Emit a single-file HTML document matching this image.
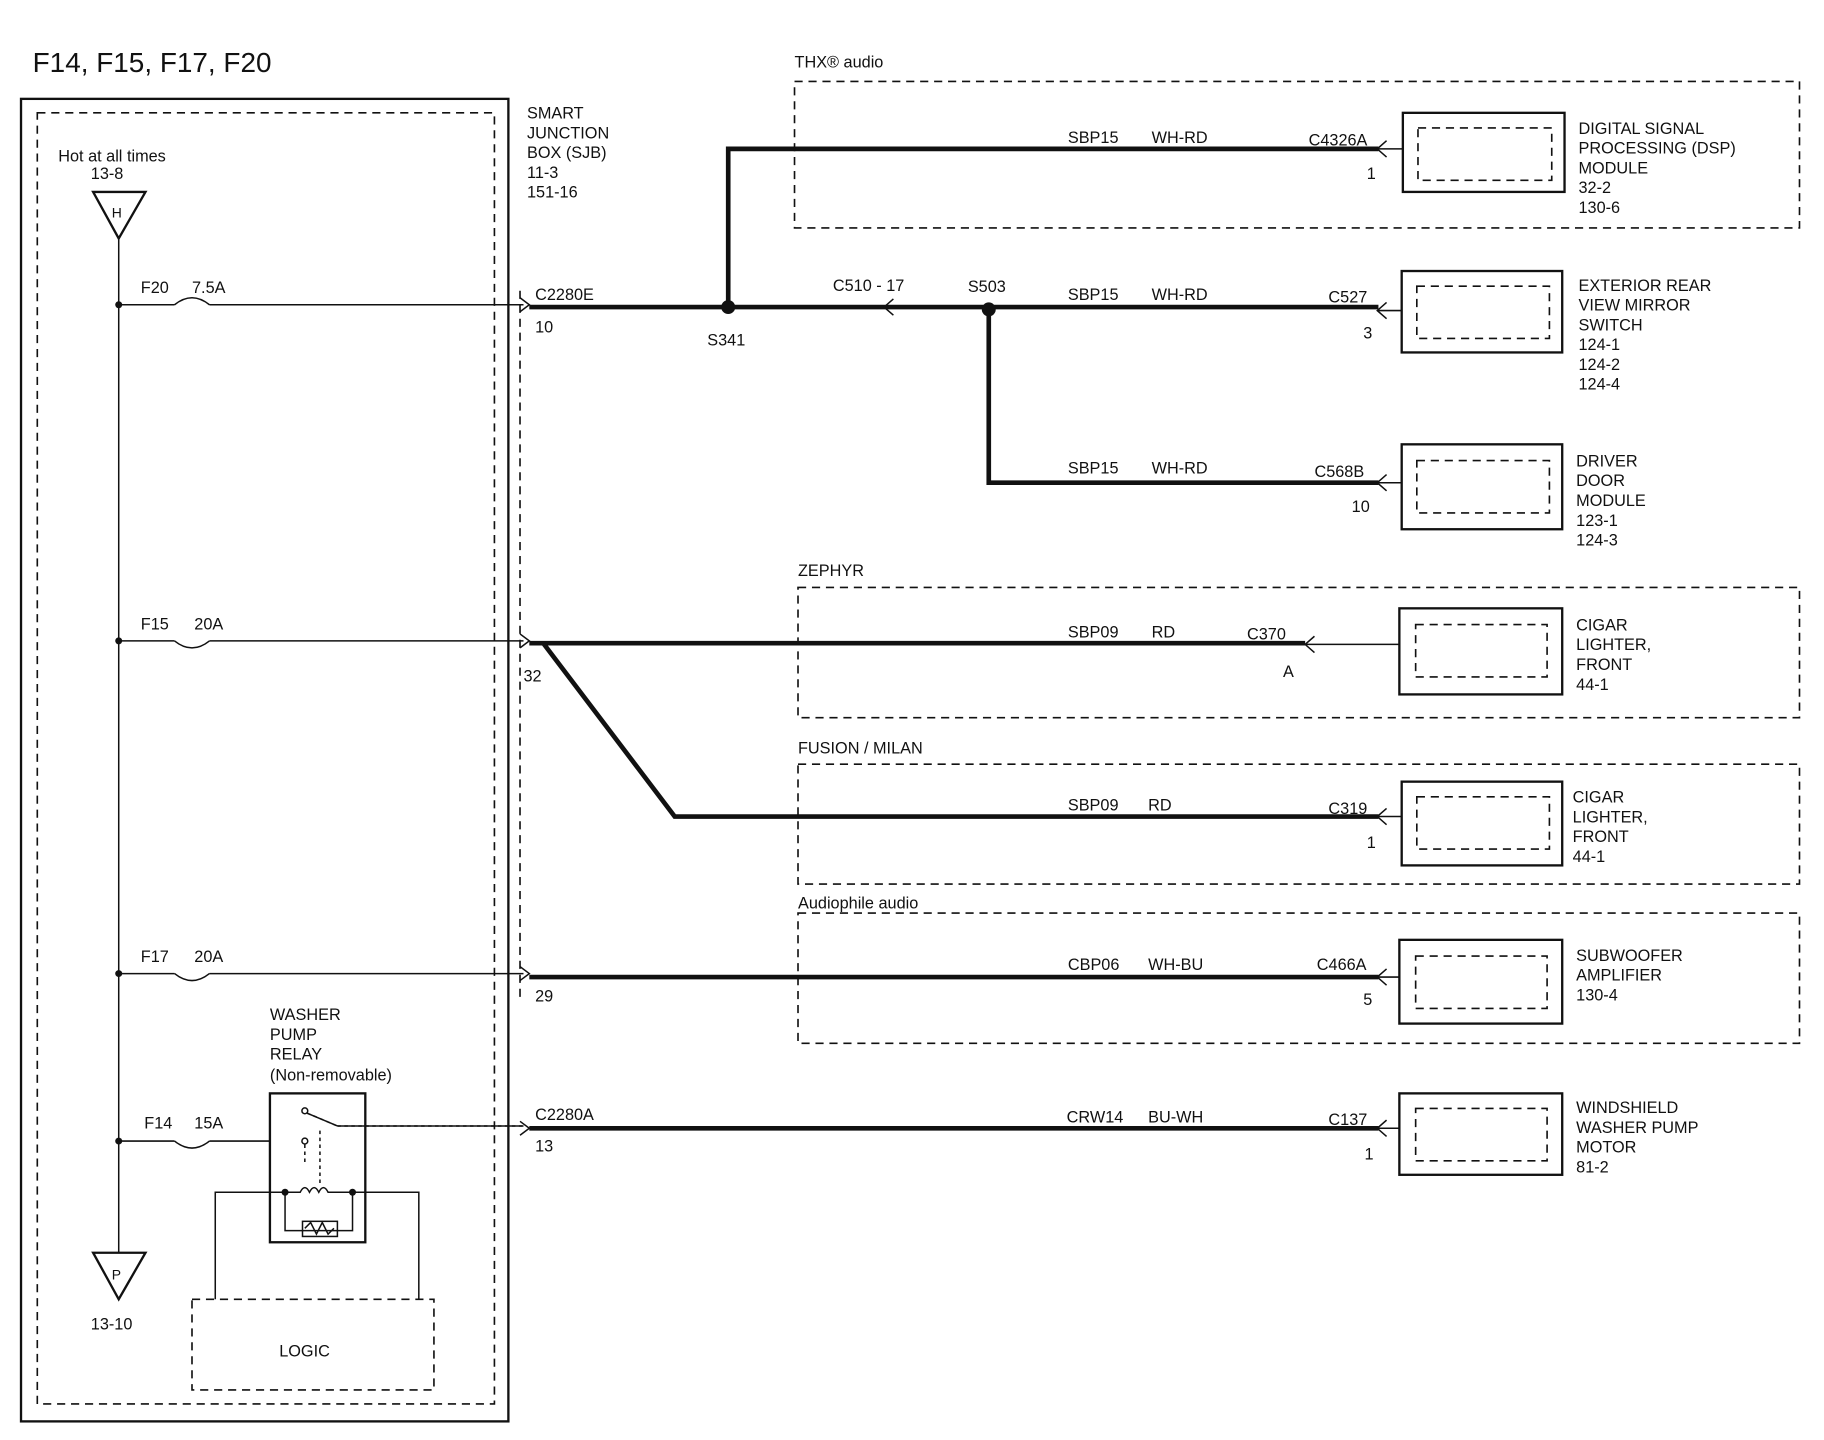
<!DOCTYPE html>
<html><head><meta charset="utf-8"><style>
html,body{margin:0;padding:0;background:#fff}
svg{display:block}
text{font-family:"Liberation Sans",Arial,sans-serif;font-size:14px;fill:#111}
.t{stroke:#111;stroke-width:1.3;fill:none}
.k{stroke:#111;stroke-width:4;fill:none}
.d{stroke:#111;stroke-width:1.4;fill:none;stroke-dasharray:7,5}
.b{stroke:#111;stroke-width:2;fill:none}
</style></head><body>
<svg width="1824" height="1440" viewBox="0 0 1568 1238" xmlns="http://www.w3.org/2000/svg">
<text x="28" y="62" style="font-size:24px">F14, F15, F17, F20</text>
<rect x="18" y="85" width="419" height="1137" class="b"/>
<rect x="32" y="97" width="393" height="1110" class="d"/>
<text x="50" y="139">Hot at all times</text>
<text x="78" y="154">13-8</text>
<polygon points="80,165 125,165 102,205" class="b"/>
<text x="96" y="187" style="font-size:12px">H</text>
<line x1="102" y1="205" x2="102" y2="1077" class="t"/>
<polygon points="80,1077 125,1077 102,1117" class="b"/>
<text x="96" y="1100" style="font-size:12px">P</text>
<text x="78" y="1143">13-10</text>
<!-- branches -->
<g>
<circle cx="102" cy="262" r="3" fill="#111"/><circle cx="102" cy="551" r="3" fill="#111"/><circle cx="102" cy="837" r="3" fill="#111"/><circle cx="102" cy="981" r="3" fill="#111"/>
<path d="M102 262H150 M180 262H450 M150 262q15 -12 30 0" class="t"/>
<path d="M102 551H150 M180 551H450 M150 551q15 12 30 0" class="t"/>
<path d="M102 837H150 M180 837H450 M150 837q15 12 30 0" class="t"/>
<path d="M102 981H150 M180 981H232 M150 981q15 12 30 0" class="t"/>
<text x="121" y="252">F20</text><text x="165" y="252">7.5A</text>
<text x="121" y="541">F15</text><text x="167" y="541">20A</text>
<text x="121" y="827">F17</text><text x="167" y="827">20A</text>
<text x="124" y="970">F14</text><text x="167" y="970">15A</text>
<path d="M447 256l8 6l-8 6 M447 545l8 6l-8 6 M447 831l8 6l-8 6 M447 964l8 6l-8 6" class="t"/>
<line x1="447" y1="250" x2="447" y2="860" class="d"/>
</g>
<text x="453" y="102">SMART</text><text x="453" y="119">JUNCTION</text><text x="453" y="136">BOX (SJB)</text><text x="453" y="153">11-3</text><text x="453" y="170">151-16</text>
<!-- top wiring -->
<text x="460" y="258">C2280E</text><text x="460" y="286">10</text>
<path d="M455 264H850 M626 264V128H1185 M850 264H1185 M850 264V415H1185" class="k"/>
<circle cx="626" cy="264" r="6" fill="#111"/><circle cx="850" cy="266" r="6" fill="#111"/>
<path d="M768 257l-8 7l8 7" class="t"/>
<text x="608" y="297">S341</text><text x="716" y="250">C510  -  17</text><text x="832" y="251">S503</text>
<text x="683" y="58">THX® audio</text>
<rect x="683" y="70" width="864" height="126" class="d"/>
<text x="918" y="123">SBP15</text><text x="990" y="123">WH-RD</text><text x="1125" y="125">C4326A</text><text x="1175" y="154">1</text>
<text x="918" y="258">SBP15</text><text x="990" y="258">WH-RD</text><text x="1142" y="260">C527</text><text x="1172" y="291">3</text>
<text x="918" y="407">SBP15</text><text x="990" y="407">WH-RD</text><text x="1130" y="410">C568B</text><text x="1162" y="440">10</text>
<!-- connectors and component boxes -->
<g>
<path d="M1192 121l-8 7l8 7 M1185 128H1206" class="t"/>
<rect x="1206" y="97" width="139" height="68" class="b"/><rect x="1219" y="110" width="115" height="45" class="d"/>
<path d="M1192 260l-8 7l8 7 M1185 267H1205" class="t"/>
<rect x="1205" y="233" width="138" height="70" class="b"/><rect x="1218" y="246" width="114" height="45" class="d"/>
<path d="M1192 408l-8 7l8 7 M1185 415H1205" class="t"/>
<rect x="1205" y="382" width="138" height="73" class="b"/><rect x="1218" y="396" width="114" height="45" class="d"/>
<path d="M1130 547l-8 7l8 7 M1122 554H1203" class="t"/>
<rect x="1203" y="523" width="140" height="74" class="b"/><rect x="1217" y="537" width="113" height="45" class="d"/>
<path d="M1192 695l-8 7l8 7 M1185 702H1205" class="t"/>
<rect x="1205" y="672" width="138" height="72" class="b"/><rect x="1218" y="685" width="114" height="45" class="d"/>
<path d="M1192 833l-8 7l8 7 M1185 840H1203" class="t"/>
<rect x="1203" y="808" width="140" height="72" class="b"/><rect x="1217" y="822" width="113" height="45" class="d"/>
<path d="M1192 963l-8 7l8 7 M1185 970H1203" class="t"/>
<rect x="1203" y="940" width="140" height="70" class="b"/><rect x="1217" y="953" width="113" height="45" class="d"/>
</g>
<text x="1357" y="115">DIGITAL SIGNAL</text><text x="1357" y="132">PROCESSING (DSP)</text><text x="1357" y="149">MODULE</text><text x="1357" y="166">32-2</text><text x="1357" y="183">130-6</text>
<text x="1357" y="250">EXTERIOR REAR</text><text x="1357" y="267">VIEW MIRROR</text><text x="1357" y="284">SWITCH</text><text x="1357" y="301">124-1</text><text x="1357" y="318">124-2</text><text x="1357" y="335">124-4</text>
<text x="1355" y="401">DRIVER</text><text x="1355" y="418">DOOR</text><text x="1355" y="435">MODULE</text><text x="1355" y="452">123-1</text><text x="1355" y="469">124-3</text>
<text x="1355" y="542">CIGAR</text><text x="1355" y="559">LIGHTER,</text><text x="1355" y="576">FRONT</text><text x="1355" y="593">44-1</text>
<text x="1352" y="690">CIGAR</text><text x="1352" y="707">LIGHTER,</text><text x="1352" y="724">FRONT</text><text x="1352" y="741">44-1</text>
<text x="1355" y="826">SUBWOOFER</text><text x="1355" y="843">AMPLIFIER</text><text x="1355" y="860">130-4</text>
<text x="1355" y="957">WINDSHIELD</text><text x="1355" y="974">WASHER PUMP</text><text x="1355" y="991">MOTOR</text><text x="1355" y="1008">81-2</text>
<!-- zephyr / fusion / audiophile -->
<text x="686" y="495">ZEPHYR</text>
<rect x="686" y="505" width="861" height="112" class="d"/>
<text x="686" y="648">FUSION / MILAN</text>
<rect x="686" y="657" width="861" height="103" class="d"/>
<text x="686" y="781">Audiophile audio</text>
<rect x="686" y="785" width="861" height="112" class="d"/>
<path d="M455 553H1122 M467 553L580 702H1185 M455 840H1185 M455 970H1185" class="k"/>
<text x="450" y="586">32</text>
<text x="918" y="548">SBP09</text><text x="990" y="548">RD</text><text x="1072" y="550">C370</text><text x="1103" y="582">A</text>
<text x="918" y="697">SBP09</text><text x="987" y="697">RD</text><text x="1142" y="700">C319</text><text x="1175" y="729">1</text>
<text x="918" y="834">CBP06</text><text x="987" y="834">WH-BU</text><text x="1132" y="834">C466A</text><text x="1172" y="864">5</text>
<text x="460" y="861">29</text>
<text x="460" y="963">C2280A</text><text x="460" y="990">13</text>
<text x="917" y="965">CRW14</text><text x="987" y="965">BU-WH</text><text x="1142" y="967">C137</text><text x="1173" y="997">1</text>
<!-- relay -->
<text x="232" y="877">WASHER</text><text x="232" y="894">PUMP</text><text x="232" y="911">RELAY</text><text x="232" y="929">(Non-removable)</text>
<rect x="232" y="940" width="82" height="128" class="b"/>
<circle cx="262" cy="955" r="2.5" class="t"/><circle cx="262" cy="981" r="2.5" class="t"/>
<path d="M264 957L290 968 M290 968H450 M262 984V1000 M275 972V1020" class="t" stroke-dasharray="3,3"/>
<path d="M264 957L290 968 M290 968H450" class="t"/>
<path d="M185 1117V1025H245 M245 1025V1058H303V1025 M303 1025H360V1117 M245 1025h13 q4 -8 8 0 q4 -8 8 0 q4 -8 8 0 h21" class="t"/>
<circle cx="245" cy="1025" r="3" fill="#111"/><circle cx="303" cy="1025" r="3" fill="#111"/>
<rect x="260" y="1050" width="30" height="13" class="t"/>
<path d="M262 1056l5 -5l5 10l5 -10l5 10l5 -5" class="t"/>
<rect x="165" y="1117" width="208" height="78" class="d"/>
<text x="240" y="1166">LOGIC</text>
</svg>
</body></html>
